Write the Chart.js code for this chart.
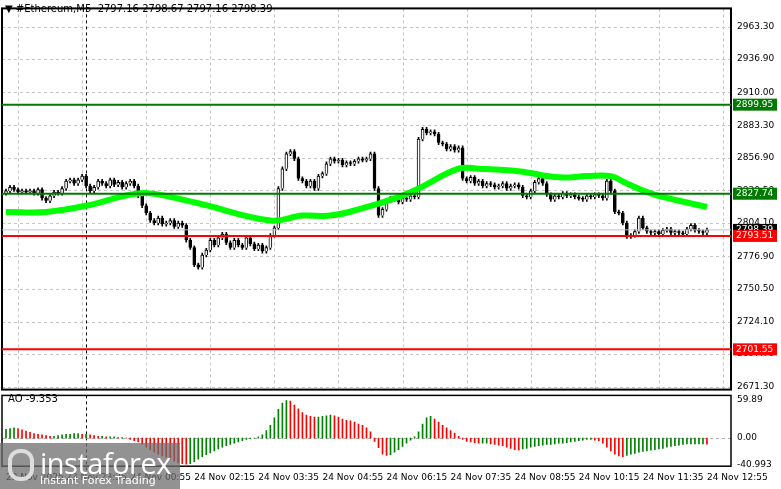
<!DOCTYPE html>
<html>
<head>
<meta charset="utf-8">
<script src="https://cdn.jsdelivr.net/npm/chart.js@4"></script>
<style>
  body { margin: 0; background: #fff; width: 781px; height: 489px; overflow: hidden; position: relative; font-family: "DejaVu Sans", sans-serif; }
  #main { position: absolute; left: 0; top: 0; }
  #ao { position: absolute; left: 0; top: 387px; }
  .hdr { position: absolute; font-size: 10px; color: #000; }
  #logo { position: absolute; left: 0; top: 443px; width: 180px; height: 46px; background: rgba(110,110,110,0.75); color: #fff; }
  #logo .big { position: absolute; left: 40px; top: 0px; font-size: 29px; font-family: "Open Sans", sans-serif; letter-spacing: -0.5px; }
  #logo .small { position: absolute; left: 40px; top: 31px; font-size: 11px; }
  #logo .gear { position: absolute; left: 8px; top: 6px; width: 26px; height: 32px; border-radius: 12px; border: 4px solid #ddd; box-sizing: border-box; }
</style>
</head>
<body>
<canvas id="main" width="781" height="398"></canvas>
<canvas id="ao" width="781" height="102"></canvas>
<div class="hdr" style="left:5px;top:3px">▼ #Ethereum,M5&nbsp; 2797.16 2798.67 2797.16 2798.39</div>
<div class="hdr" style="left:8px;top:393px">AO -9.353</div>
<div id="logo"><div class="gear"></div><div class="big">instaforex</div><div class="small">Instant Forex Trading</div></div>
<script>
// close of each 5-minute candle, 23 Nov 22:20 .. 24 Nov 12:55
const closes = [
  2830,2833,2831,2829,2830,2829,2830,2828,2831,2824,
  2822,2826,2829,2828,2832,2838,2839,2836,2839,2842,
  2834,2830,2833,2838,2836,2834,2839,2835,2837,2833,
  2836,2838,2834,2826,2818,2812,2806,2804,2808,2803,
  2804,2806,2801,2804,2802,2790,2784,2770,2768,2778,
  2782,2790,2786,2792,2795,2788,2784,2790,2786,2784,
  2792,2787,2783,2786,2781,2784,2794,2800,2832,2848,
  2860,2862,2856,2840,2838,2834,2838,2832,2842,2844,
  2852,2856,2854,2855,2851,2853,2852,2854,2856,2855,
  2856,2860,2832,2810,2815,2822,2824,2823,2821,2824,
  2823,2826,2825,2872,2880,2877,2878,2876,2869,2868,
  2864,2866,2863,2865,2840,2838,2841,2836,2838,2834,
  2836,2835,2833,2834,2836,2832,2834,2835,2833,2826,
  2825,2830,2837,2840,2836,2827,2823,2826,2825,2828,
  2826,2827,2825,2824,2823,2826,2825,2827,2826,2824,
  2838,2830,2813,2812,2804,2793,2794,2797,2808,2800,
  2797,2796,2797,2795,2798,2799,2796,2797,2796,2795,
  2799,2802,2798,2797,2796,2798.39
];
const firstOpen = 2828;
// moving average (green), sampled at candle indices
const maIdx = [0, 10, 20, 31, 36, 48, 66, 74, 81, 88, 98, 103, 113, 118, 128, 138, 145, 151, 155, 161, 168, 175];
const maVal = [2813, 2813, 2818, 2827, 2828, 2820, 2806, 2810, 2810, 2815, 2825, 2832, 2848, 2848, 2846, 2841, 2842, 2842, 2836, 2828, 2822, 2817];
// Awesome Oscillator
const ao = [
  14,15,16,15,13,11,9,7,6,5, 4,3,3,4,5,6,6,7,7,6, 6,5,4,3,3,2,2,2,1,1,
  0,-2,-4,-6,-9,-14,-18,-22,-25,-28, -30,-33,-36,-39,-40,-41,-40,-37,-33,-29,
  -26,-23,-20,-17,-14,-12,-10,-8,-6,-4, -2,-1,0,2,5,12,20,32,45,55,
  59,58,52,46,40,36,34,33,33,34, 35,36,35,33,30,28,27,25,22,20,
  16,10,-5,-15,-25,-27,-26,-22,-18,-13, -8,-3,2,10,22,32,34,30,25,20,
  16,12,8,3,-2,-5,-6,-7,-8,-8, -8,-9,-10,-11,-12,-14,-16,-18,-19,-17,
  -16,-14,-13,-12,-11,-10,-10,-9,-8,-8, -7,-6,-5,-4,-3,-2,-2,-3,-4,-8,
  -14,-20,-25,-28,-29,-27,-25,-24,-22,-21, -20,-19,-18,-17,-16,-14,-13,-12,-11,-10,
  -9,-9,-9,-9,-9,-9.353
];
const priceTicks = [2963.30, 2936.90, 2910.00, 2883.30, 2856.90, 2830.50, 2804.10, 2776.90, 2750.50, 2724.10, 2697.70, 2671.30];
const aoTicks = [59.89, 0.00, -40.993];
const levels = [2899.95, 2827.74, 2793.51, 2701.55];
const levelColors = ['#007a00', '#007a00', '#ff0000', '#ff0000'];
const gridIdx = [3, 19, 35, 51, 67, 83, 99, 115, 131, 147, 163, 179];
const timeTickIdx = [0, 15, 31, 47, 63, 79, 95, 111, 127, 143, 159, 175];
const timeLabels = ['23 Nov 2025', '23 Nov 23:35', '24 Nov 00:55', '24 Nov 02:15', '24 Nov 03:35', '24 Nov 04:55', '24 Nov 06:15', '24 Nov 07:35', '24 Nov 08:55', '24 Nov 10:15', '24 Nov 11:35', '24 Nov 12:55'];
const daySepIdx = 20;
const lastPrice = 2798.39;

const font = { family: 'DejaVu Sans', size: 9 };
const opens = closes.map((c, i) => i === 0 ? firstOpen : closes[i - 1]);
const bodies = closes.map((c, i) => ({ x: i, y: [opens[i], c === opens[i] ? c + 0.4 : c] }));
const wicks = closes.map((c, i) => ({ x: i, y: [Math.min(opens[i], c) - 1.5, Math.max(opens[i], c) + 1.5] }));

const frame = {
  id: 'frame',
  beforeDatasetsDraw(chart, args, opts) {
    const { ctx, chartArea: a, scales } = chart;
    ctx.save();
    ctx.strokeStyle = '#c4c4c4'; ctx.lineWidth = 1; ctx.setLineDash([3, 3]);
    gridIdx.forEach(i => {
      const x = Math.round(scales.x.getPixelForValue(i)) + 0.5;
      ctx.beginPath(); ctx.moveTo(x, a.top); ctx.lineTo(x, a.bottom); ctx.stroke();
    });
    priceTicks.forEach(v => {
      const y = Math.round(scales.y.getPixelForValue(v)) + 0.5;
      ctx.beginPath(); ctx.moveTo(a.left, y); ctx.lineTo(a.right, y); ctx.stroke();
    });
    ctx.strokeStyle = '#000';
    const dx = Math.round(scales.x.getPixelForValue(daySepIdx)) + 0.5;
    ctx.beginPath(); ctx.moveTo(dx, a.top); ctx.lineTo(dx, a.bottom); ctx.stroke();
    ctx.setLineDash([]);
    ctx.restore();
  },
  afterDraw(chart, args, opts) {
    const { ctx, chartArea: a, scales } = chart;
    ctx.save();
    ctx.strokeStyle = '#000'; ctx.lineWidth = 2;
    ctx.strokeRect(a.left, a.top, a.right - a.left, a.bottom - a.top);
    ctx.font = '9px DejaVu Sans'; ctx.textBaseline = 'middle';
    (opts.boxes || []).forEach(b => {
      const y = scales.y.getPixelForValue(b.v);
      if (b.line) {
        ctx.strokeStyle = b.line; ctx.lineWidth = b.w || 2;
        ctx.beginPath(); ctx.moveTo(a.left, y); ctx.lineTo(a.right, y); ctx.stroke();
      }
      ctx.fillStyle = b.bg;
      ctx.fillRect(a.right + 2, y - 6, 44, 12);
      ctx.fillStyle = '#fff';
      ctx.fillText(b.v.toFixed(2), a.right + 5, y);
    });
    ctx.restore();
  }
};

const boxes = [{ v: lastPrice, bg: '#000', line: '#c0c0c0', w: 1 }]
  .concat(levels.map((v, i) => ({ v, bg: levelColors[i], line: levelColors[i], w: 2 })));

new Chart(document.getElementById('main'), {
  type: 'bar',
  data: {
    datasets: [
      { type: 'line', data: maIdx.map((x, i) => ({ x, y: maVal[i] })), borderColor: '#00ff00', borderWidth: 6, pointRadius: 0, tension: 0.4, order: 0 },
      { data: bodies, backgroundColor: closes.map((c, i) => c >= opens[i] ? '#fff' : '#000'), borderColor: '#000', borderWidth: 1, barThickness: 3, grouped: false, order: 1 },
      { data: wicks, backgroundColor: '#000', barThickness: 1, grouped: false, order: 2 }
    ]
  },
  options: {
    responsive: false, animation: false,
    layout: { padding: { left: 2, top: 0, bottom: 1 } },
    plugins: { legend: { display: false }, tooltip: { enabled: false }, frame: { boxes } },
    scales: {
      x: { type: 'linear', min: -1, max: 181, offset: false, display: false },
      y: { position: 'right', min: 2668.9, max: 2978,
           afterBuildTicks: s => { s.ticks = priceTicks.map(v => ({ value: v })); },
           afterFit: s => { s.width = 50; },
           ticks: { font, color: '#000', padding: 3, callback: v => v.toFixed(2) },
           grid: { display: false, tickLength: 3 },
           border: { display: false } }
    }
  },
  plugins: [frame]
});

const aoFrame = {
  id: 'aoFrame',
  beforeDatasetsDraw(chart) {
    const { ctx, chartArea: a, scales } = chart;
    ctx.save();
    ctx.strokeStyle = '#000'; ctx.setLineDash([3, 3]);
    const dx = Math.round(scales.x.getPixelForValue(daySepIdx)) + 0.5;
    ctx.beginPath(); ctx.moveTo(dx, a.top); ctx.lineTo(dx, a.bottom + 4); ctx.stroke();
    ctx.strokeStyle = '#b0b0b0';
    const y0 = Math.round(scales.y.getPixelForValue(0)) + 0.5;
    ctx.beginPath(); ctx.moveTo(a.left, y0); ctx.lineTo(a.right, y0); ctx.stroke();
    ctx.restore();
  },
  afterDraw(chart) {
    const { ctx, chartArea: a } = chart;
    ctx.save(); ctx.strokeStyle = '#000'; ctx.lineWidth = 1.5;
    ctx.strokeRect(a.left, a.top, a.right - a.left, a.bottom - a.top);
    ctx.restore();
  }
};

new Chart(document.getElementById('ao'), {
  type: 'bar',
  data: {
    datasets: [{
      data: ao.map((v, i) => ({ x: i, y: v })),
      backgroundColor: ao.map((v, i) => i > 0 && v < ao[i - 1] ? '#ff0000' : '#008000'),
      barThickness: 1
    }]
  },
  options: {
    responsive: false, animation: false,
    layout: { padding: { left: 2, top: 0, bottom: 4 } },
    plugins: { legend: { display: false }, tooltip: { enabled: false } },
    scales: {
      x: { type: 'linear', min: -1, max: 181, offset: false,
           afterBuildTicks: s => { s.ticks = timeTickIdx.map(v => ({ value: v })); },
           ticks: { font, color: '#000', autoSkip: false, maxRotation: 0, align: 'start', padding: 2,
                    callback: (v) => timeLabels[timeTickIdx.indexOf(v)] },
           grid: { display: false, drawTicks: true, tickLength: 4 }, border: { display: false } },
      y: { position: 'right', min: -44, max: 67,
           afterBuildTicks: s => { s.ticks = aoTicks.map(v => ({ value: v })); },
           afterFit: s => { s.width = 50; },
           ticks: { font, color: '#000', padding: 3, callback: v => v === -40.993 ? '-40.993' : v.toFixed(2) },
           grid: { display: false, tickLength: 3 }, border: { display: false } }
    }
  },
  plugins: [aoFrame]
});
</script>
</body>
</html>
